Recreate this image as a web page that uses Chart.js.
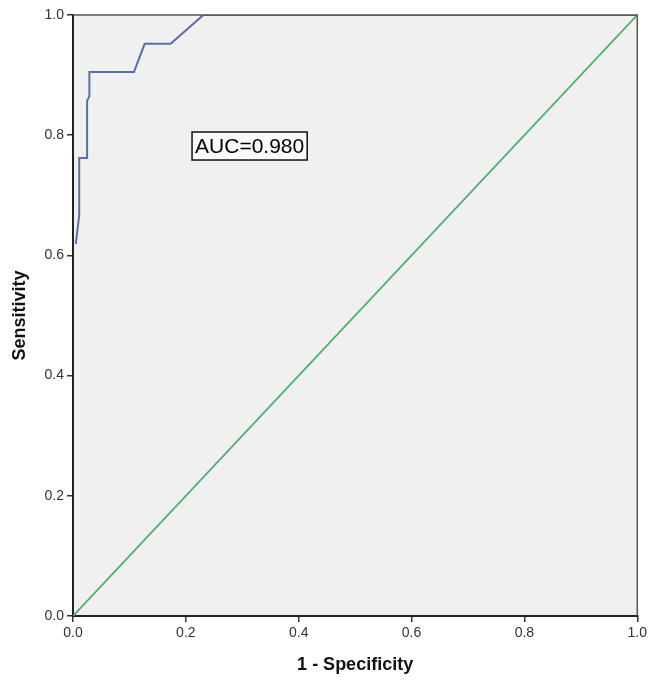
<!DOCTYPE html>
<html>
<head>
<meta charset="utf-8">
<script src="https://cdn.jsdelivr.net/npm/chart.js@4/dist/chart.umd.min.js"></script>
<style>
  html, body { margin: 0; padding: 0; background: #fff; }
  #wrap { width: 650px; height: 681px; }
</style>
</head>
<body>
<div id="wrap"><canvas id="roc"></canvas></div>
<script>
// ROC curve (1 - specificity, sensitivity)
var rocFpr = [0.005, 0.011, 0.011, 0.025, 0.025, 0.029, 0.029, 0.108, 0.127, 0.173, 0.231, 1.0];
var rocTpr = [0.619, 0.667, 0.762, 0.762, 0.857, 0.865, 0.905, 0.905, 0.952, 0.952, 1.0, 1.0];

// reference (chance) line
var refFpr = [0, 1];
var refTpr = [0, 1];

var tickValues = [0, 0.2, 0.4, 0.6, 0.8, 1.0];
var aucText = 'AUC=0.980';
var aucAt = [0.313, 0.782];

function pts(xs, ys) {
  return xs.map(function (x, i) { return { x: x, y: ys[i] }; });
}

var plotBg = {
  id: 'plotBg',
  beforeDraw: function (chart) {
    var a = chart.chartArea, c = chart.ctx;
    c.save();
    c.fillStyle = '#f0f0f0';
    c.fillRect(a.left, a.top, a.right - a.left, a.bottom - a.top);
    c.restore();
  },
  afterDraw: function (chart) {
    var a = chart.chartArea, c = chart.ctx;
    c.save();
    c.strokeStyle = '#555';
    c.lineWidth = 1.5;
    c.beginPath();
    c.moveTo(a.left, a.top);
    c.lineTo(a.right, a.top);
    c.lineTo(a.right, a.bottom);
    c.stroke();
    c.restore();
  }
};

var aucBox = {
  id: 'aucBox',
  afterDatasetsDraw: function (chart) {
    var c = chart.ctx;
    var px = chart.scales.x.getPixelForValue(aucAt[0]);
    var py = chart.scales.y.getPixelForValue(aucAt[1]);
    c.save();
    c.font = '21px "Liberation Sans", Arial, sans-serif';
    var w = c.measureText(aucText).width;
    var bw = w + 6, bh = 28;
    c.fillStyle = '#fbfbfb';
    c.fillRect(px - bw / 2, py - bh / 2, bw, bh);
    c.strokeStyle = '#111';
    c.lineWidth = 1.5;
    c.strokeRect(px - bw / 2, py - bh / 2, bw, bh);
    c.fillStyle = '#000';
    c.textAlign = 'center';
    c.textBaseline = 'middle';
    c.fillText(aucText, px, py + 1);
    c.restore();
  }
};

var tickFont = { family: '"Liberation Sans", Arial, sans-serif', size: 14 };
var titleFont = { family: '"Liberation Sans", Arial, sans-serif', size: 18, weight: 'bold' };

new Chart(document.getElementById('roc').getContext('2d'), {
  type: 'scatter',
  data: {
    datasets: [{
      label: 'ROC',
      data: pts(rocFpr, rocTpr),
      showLine: true,
      borderColor: '#5b6da6',
      borderWidth: 2,
      pointRadius: 0,
      tension: 0
    }, {
      label: 'Reference',
      data: pts(refFpr, refTpr),
      showLine: true,
      borderColor: '#45b06a',
      borderWidth: 1.8,
      pointRadius: 0
    }]
  },
  options: {
    responsive: true,
    maintainAspectRatio: false,
    animation: false,
    layout: { padding: { top: 15, right: 11, left: 0, bottom: 0 } },
    plugins: { legend: { display: false }, tooltip: { enabled: false } },
    scales: {
      x: {
        type: 'linear', min: 0, max: 1,
        afterFit: function (s) { s.height = 65; },
        afterBuildTicks: function (s) { s.ticks = tickValues.map(function (v) { return { value: v }; }); },
        ticks: { color: '#333', font: tickFont, padding: 3, maxRotation: 0,
                 callback: function (v) { return v.toFixed(1); } },
        grid: { drawOnChartArea: false, drawTicks: true, tickLength: 6, color: '#333', lineWidth: 1.5 },
        border: { color: '#222', width: 2 },
        title: { display: true, text: '1 - Specificity', color: '#111', font: titleFont,
                 padding: { top: 0, bottom: 5 } }
      },
      y: {
        type: 'linear', min: 0, max: 1,
        afterFit: function (s) { s.width = 73; },
        afterBuildTicks: function (s) { s.ticks = tickValues.map(function (v) { return { value: v }; }); },
        ticks: { color: '#333', font: tickFont, padding: 3,
                 callback: function (v) { return v.toFixed(1); } },
        grid: { drawOnChartArea: false, drawTicks: true, tickLength: 6, color: '#333', lineWidth: 1.5 },
        border: { color: '#222', width: 2 },
        title: { display: true, text: 'Sensitivity', color: '#111', font: titleFont,
                 padding: { top: 9, bottom: 0 } }
      }
    }
  },
  plugins: [plotBg, aucBox]
});
</script>
</body>
</html>
